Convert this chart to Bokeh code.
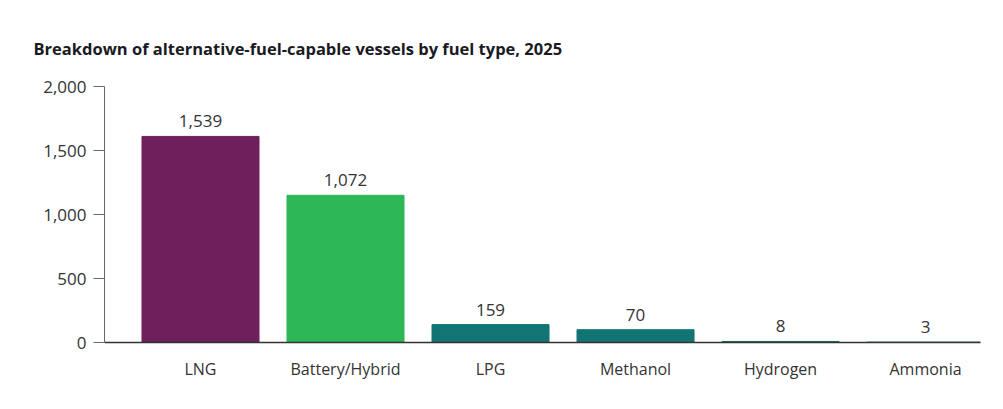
from bokeh.plotting import figure
from bokeh.models import Range1d, FixedTicker, NumeralTickFormatter, ColumnDataSource, LabelSet, Title
from bokeh.core.properties import value
from bokeh.embed import file_html
from bokeh.resources import INLINE

# ---- data ----
fuels = ["LNG", "Battery/Hybrid", "LPG", "Methanol", "Hydrogen", "Ammonia"]
vessel_counts = [1539, 1072, 159, 70, 8, 3]          # printed value labels
bar_heights = [1610, 1150, 140, 100, 8, 3]           # bar heights as drawn in the picture
bar_colors = ["#6f1f5b", "#2db757", "#127573", "#127573", "#127573", "#127573"]
y_ticks = [0, 500, 1000, 1500, 2000]
title_text = "Breakdown of alternative-fuel-capable vessels by fuel type, 2025"

positions = list(range(len(fuels)))
src = ColumnDataSource(dict(
    x=positions,
    h=bar_heights,
    c=bar_colors,
    lab=[f"{v:,}" for v in vessel_counts],
))

FONT = "Open Sans"
TXT = "#333333"

p = figure(width=1003, height=409,
           x_range=Range1d(-0.662, 5.379), y_range=Range1d(0, 2000),
           output_backend="svg", toolbar_location=None,
           min_border_left=104, min_border_right=23,
           min_border_top=86, min_border_bottom=67)
p.outline_line_color = None
p.xgrid.visible = False
p.ygrid.visible = False
p.background_fill_color = "white"
p.border_fill_color = "white"

p.vbar(x="x", top="h", width=0.807, color="c", source=src)

labels = LabelSet(x="x", y="h", text="lab", source=src, y_offset=9,
                  text_align="center", text_baseline="alphabetic",
                  text_font=value(FONT), text_font_size="17px", text_color=TXT)
p.add_layout(labels)

# y axis
p.yaxis.ticker = FixedTicker(ticks=y_ticks)
p.yaxis.formatter = NumeralTickFormatter(format="0,0")
p.yaxis.minor_tick_line_color = None
p.yaxis.major_tick_out = 11
p.yaxis.major_tick_in = 0
p.yaxis.major_tick_line_color = "#666666"
p.yaxis.axis_line_color = "#666666"
p.yaxis.major_label_standoff = 7
p.yaxis.major_label_text_font = FONT
p.yaxis.major_label_text_font_size = "17px"
p.yaxis.major_label_text_color = TXT

# x axis (categories by index)
p.xaxis.ticker = FixedTicker(ticks=positions)
p.xaxis.major_label_overrides = {i: f for i, f in zip(positions, fuels)}
p.xaxis.minor_tick_line_color = None
p.xaxis.major_tick_line_color = None
p.xaxis.axis_line_color = "#333333"
p.xaxis.axis_line_width = 1.5
p.xaxis.major_label_standoff = 9
p.xaxis.major_label_text_font = FONT
p.xaxis.major_label_text_font_size = "16px"
p.xaxis.major_label_text_color = TXT

p.add_layout(Title(text=title_text, align="left", offset=-71, standoff=53,
                   text_font=FONT, text_font_style="bold", text_font_size="16.5px",
                   text_color="#1a1a24"), "above")

open("out.html", "w").write(file_html(p, INLINE))
